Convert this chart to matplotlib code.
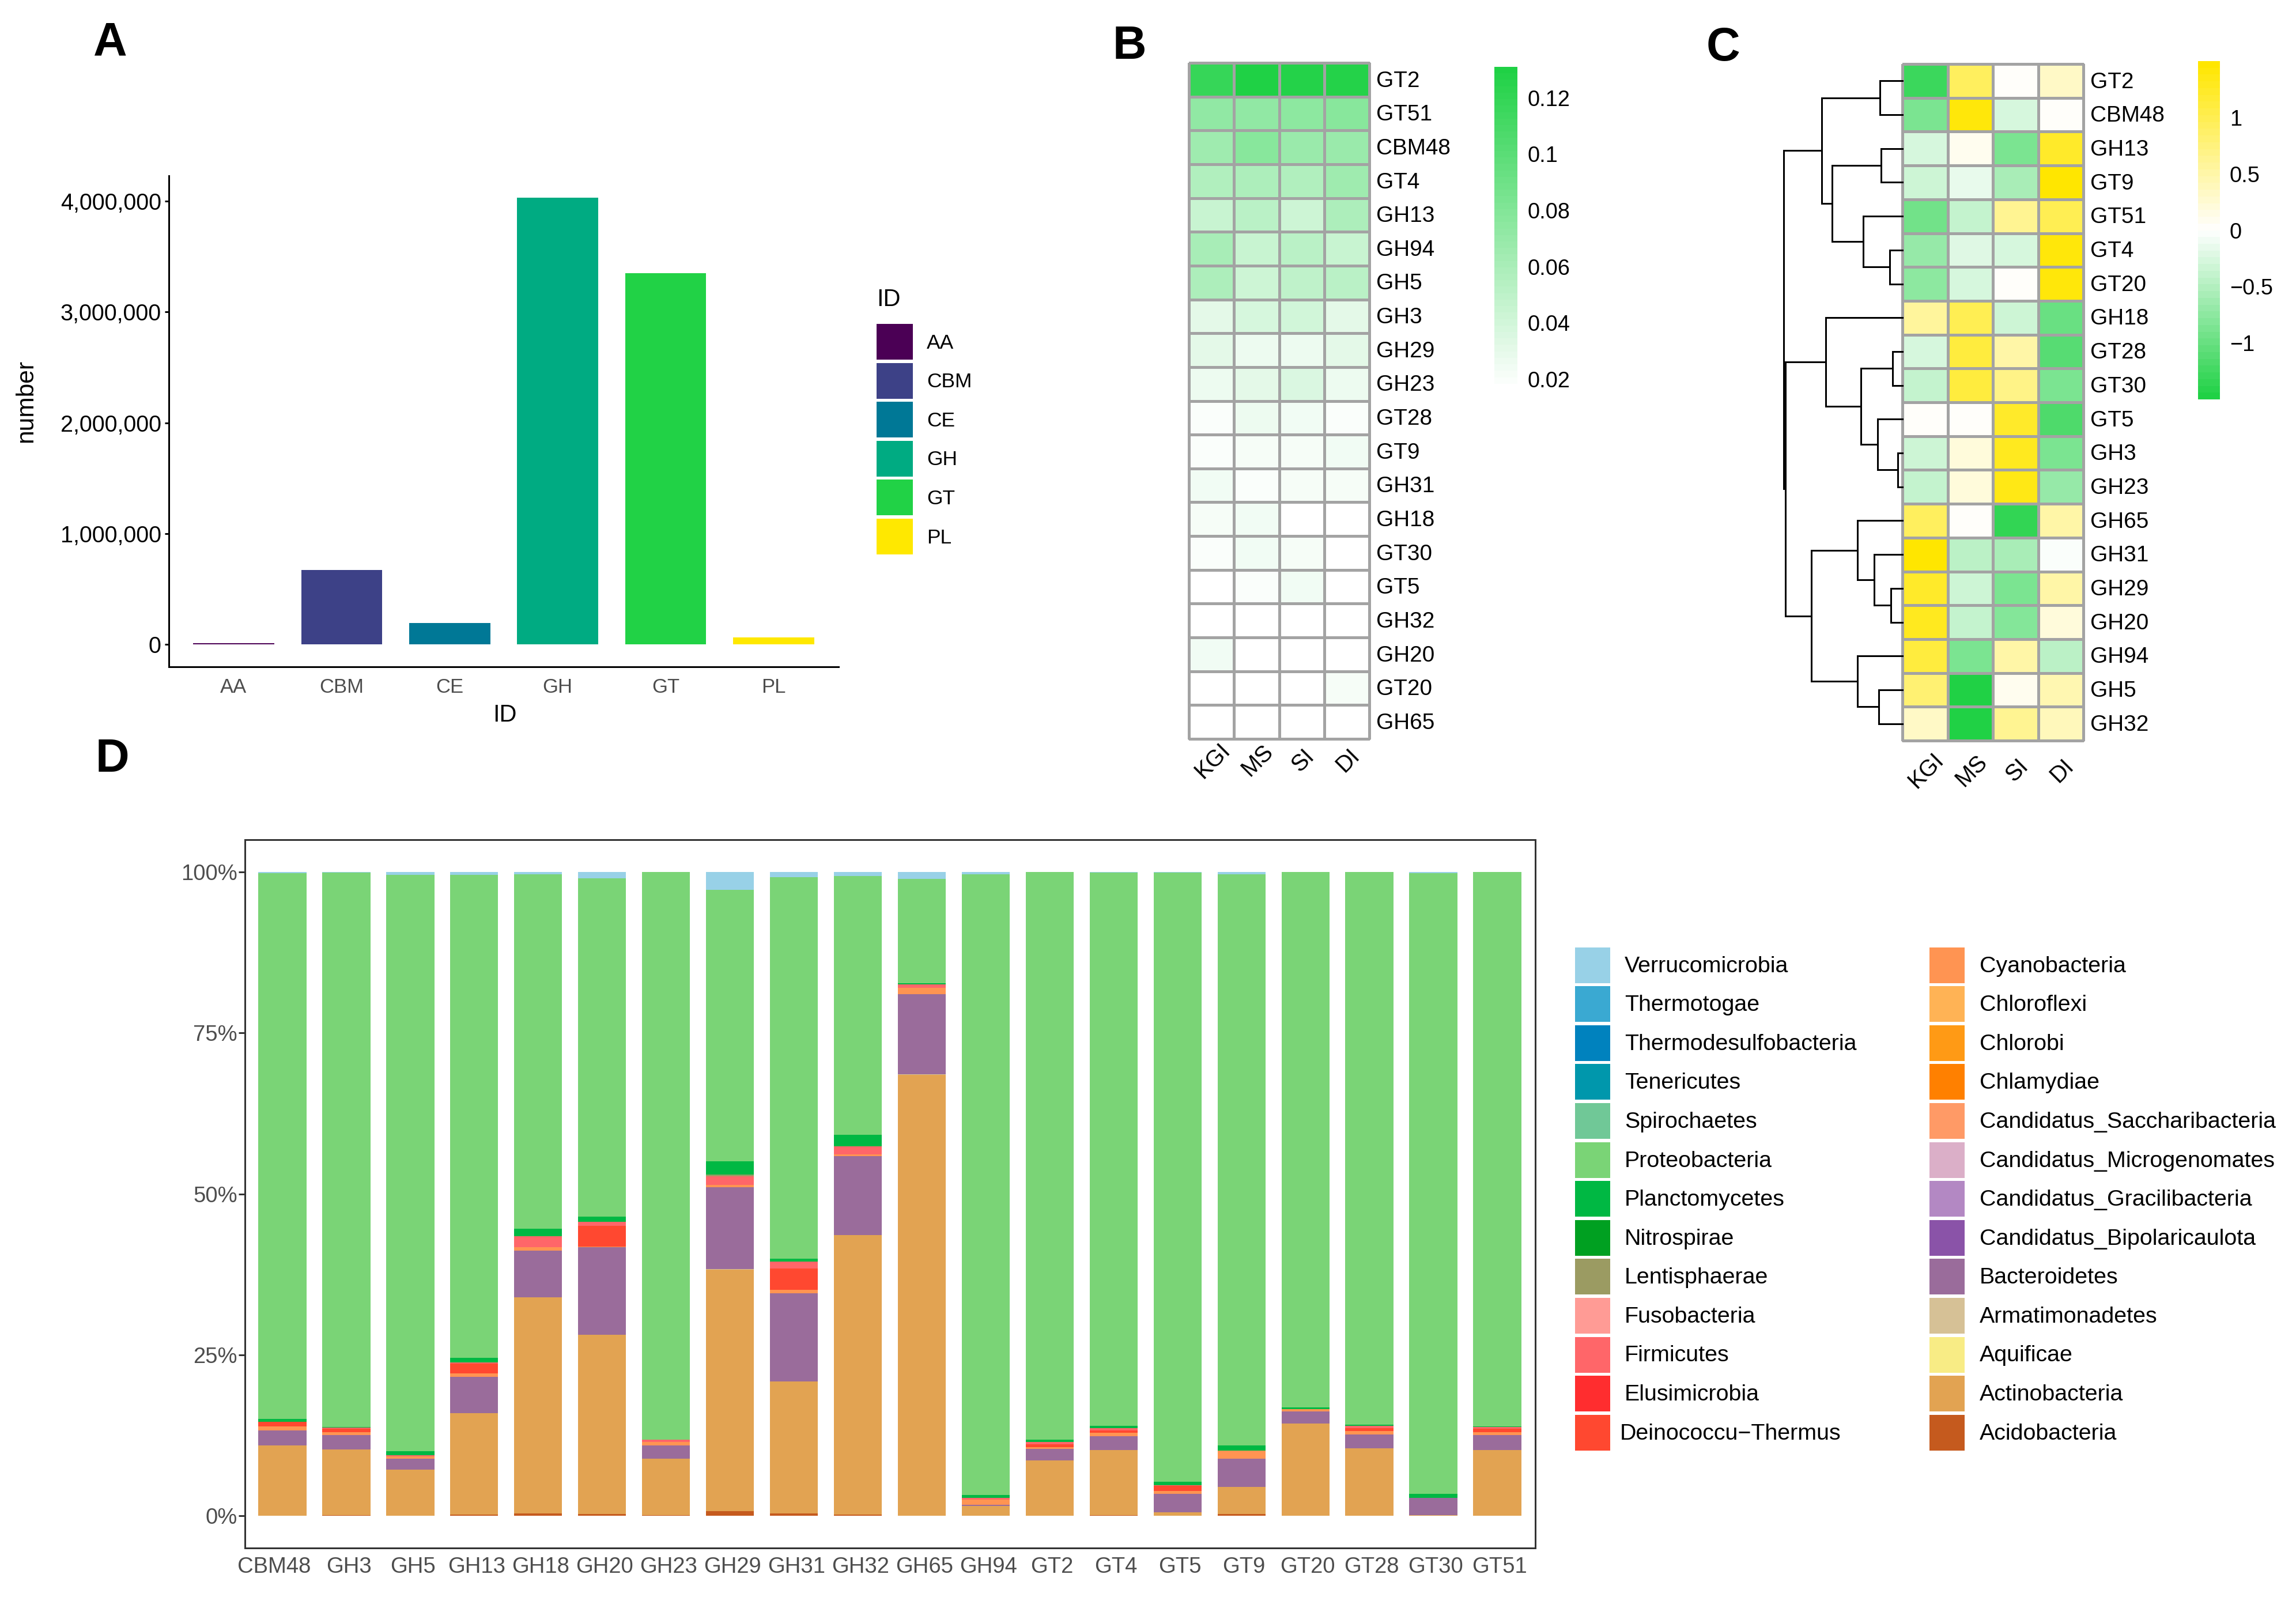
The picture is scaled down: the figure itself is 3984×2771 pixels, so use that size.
import numpy as np
import matplotlib
matplotlib.use('Agg')
import matplotlib.pyplot as plt
from matplotlib.cm import ScalarMappable
from matplotlib.colors import LinearSegmentedColormap, Normalize
from matplotlib.patches import Rectangle
from matplotlib.transforms import ScaledTranslation

plt.rcParams['font.family'] = ['Liberation Sans', 'DejaVu Sans']

W, H = 3984, 2771
DPI = 300
PX = 72 / DPI  # one output pixel in points

# --- panel A data ---
enzyme_ids = ['AA', 'CBM', 'CE', 'GH', 'GT', 'PL']
enzyme_counts = [12000, 671000, 190000, 4030000, 3353000, 62000]
enzyme_colors = ['#4B0055', '#3D4187', '#007896', '#00AB82', '#21D246', '#FFE800']

# --- panel B data ---
b_rows = ['GT2', 'GT51', 'CBM48', 'GT4', 'GH13', 'GH94', 'GH5', 'GH3', 'GH29', 'GH23',
          'GT28', 'GT9', 'GH31', 'GH18', 'GT30', 'GT5', 'GH32', 'GH20', 'GT20', 'GH65']
samples = ['KGI', 'MS', 'SI', 'DI']
b_kgi = [.118, .072, .066, .056, .044, .060, .058, .032, .032, .027,
         .020, .020, .025, .021, .019, .018, .018, .023, .016, .018]
b_ms = [.131, .072, .076, .058, .052, .044, .042, .038, .027, .030,
        .026, .022, .020, .023, .023, .019, .016, .016, .016, .018]
b_si = [.127, .075, .068, .056, .042, .052, .050, .040, .027, .035,
        .024, .022, .021, .018, .022, .023, .018, .016, .018, .016]
b_di = [.127, .078, .068, .066, .058, .045, .052, .030, .031, .027,
        .020, .024, .022, .016, .016, .016, .018, .018, .021, .018]

# --- panel C data ---
c_rows = ['GT2', 'CBM48', 'GH13', 'GT9', 'GT51', 'GT4', 'GT20', 'GH18', 'GT28', 'GT30',
          'GT5', 'GH3', 'GH23', 'GH65', 'GH31', 'GH29', 'GH20', 'GH94', 'GH5', 'GH32']
c_kgi = [-1.3, -.85, -.25, -.35, -.95, -.7, -.75, .55, -.25, -.4,
         .02, -.33, -.4, .9, 1.45, 1.2, 1.3, 1.1, .8, .3]
c_ms = [.95, 1.4, .1, -.15, -.4, -.2, -.3, 1.0, 1.1, 1.1,
        .05, .2, .2, .05, -.45, -.35, -.4, -.85, -1.5, -1.45]
c_si = [.02, -.25, -.9, -.6, .6, -.25, .02, -.33, .5, .7,
        1.2, 1.3, 1.35, -1.35, -.6, -.85, -.8, .5, .07, .6]
c_di = [.35, .02, 1.2, 1.45, 1.0, 1.4, 1.4, -1.0, -1.1, -.85,
        -1.2, -.85, -.7, .5, -.05, .5, .2, -.45, .45, .4]

# dendrogram: leaves are 0-19, new nodes count on from 20 (left, right, height)
c_merges = [
    (0, 1, 59), (2, 3, 56), (5, 6, 34), (4, 22, 103), (21, 23, 186), (20, 24, 213),
    (8, 9, 26), (11, 12, 12), (10, 27, 65), (26, 28, 109), (7, 29, 203),
    (15, 16, 31), (14, 31, 75), (13, 32, 118), (18, 19, 62), (17, 34, 119),
    (33, 35, 240), (30, 36, 309), (25, 37, 313),
]

# --- panel D data ---
gene_families = ['CBM48', 'GH3', 'GH5', 'GH13', 'GH18', 'GH20', 'GH23', 'GH29', 'GH31', 'GH32',
                 'GH65', 'GH94', 'GT2', 'GT4', 'GT5', 'GT9', 'GT20', 'GT28', 'GT30', 'GT51']
acidobacteria = [.05, .1, .05, .2, .35, .3, .1, .7, .35, .2, .05, .05, .05, .1, .05, .25, .05, .05, .05, .05]
actinobacteria = [10.91, 10.2, 7.12, 15.7, 33.55, 27.8, 8.76, 37.5, 20.55, 43.4,
                  68.45, 1.45, 8.55, 10.1, .5, 4.25, 14.25, 10.45, .05, 10.15]
armatimonadetes = [0, 0, 0, 0, 0, 0, 0, .1, 0, 0, .1, 0, 0, 0, 0, 0, 0, 0, 0, 0]
bacteroidetes = [2.34, 2.2, 1.73, 5.7, 7.3, 13.65, 2.1, 12.7, 13.7, 12.3,
                 12.4, .24, 1.8, 2.2, 2.85, 4.4, 1.95, 2.15, 2.7, 2.3]
cyanobacteria = [.6, .5, .3, .5, .5, .05, .54, .4, .5, .2, 1.0, .76, .3, .5, .5, 1.2, .35, .5, 0, .5]
deinococcus = [.67, .5, 0, 1.55, 0, 3.25, 0, 0, 3.3, 0, 0, 0, .4, .4, .75, 0, 0, .5, 0, .5]
firmicutes = [0, .2, .2, .15, 1.7, .6, .3, 1.3, 1.1, 1.3, .5, .3, .35, .3, .15, 0, 0, .35, 0, .3]
lentisphaerae = [0, 0, 0, 0, 0, 0, 0, .3, 0, 0, 0, 0, 0, 0, 0, 0, 0, 0, 0, 0]
planctomycetes = [.5, .1, .6, .7, 1.2, .8, .05, 2.1, .4, 1.8, .25, .4, .35, .4, .5, .8, .25, .15, .6, .1]
proteobacteria = [84.73, 86.07, 89.5, 75.0, 55.0, 52.6, 88.15, 42.1, 59.3, 40.2,
                  16.15, 96.45, 88.15, 85.9, 94.6, 88.7, 83.1, 85.8, 96.4, 86.05]
verrucomicrobia = [.2, .13, .5, .5, .4, 1.0, .05, 2.8, .8, .6, 1.1, .35, .05, .1, .1, .4, .05, .05, .2, .05]

legend_left = ['Verrucomicrobia', 'Thermotogae', 'Thermodesulfobacteria', 'Tenericutes', 'Spirochaetes',
               'Proteobacteria', 'Planctomycetes', 'Nitrospirae', 'Lentisphaerae', 'Fusobacteria',
               'Firmicutes', 'Elusimicrobia', 'Deinococcu\u2212Thermus']
legend_right = ['Cyanobacteria', 'Chloroflexi', 'Chlorobi', 'Chlamydiae', 'Candidatus_Saccharibacteria',
                'Candidatus_Microgenomates', 'Candidatus_Gracilibacteria', 'Candidatus_Bipolaricaulota',
                'Bacteroidetes', 'Armatimonadetes', 'Aquificae', 'Actinobacteria', 'Acidobacteria']
colors_left = ['#98D1E7', '#3AA9D2', '#0082BE', '#0097AC', '#70C897', '#7AD476', '#00B843',
               '#00A021', '#9B9B62', '#FF9B95', '#FF6669', '#FF2D2F', '#FF4830']
colors_right = ['#FF9452', '#FFB355', '#FF9A15', '#FF8000', '#FF9A66', '#DBAFC8', '#B388C3',
                '#8A53A8', '#9A6C9B', '#D6C196', '#F8EC85', '#E2A352', '#C55A1E']


def px_axes(fig, x0, y0, x1, y1):
    # axes placed by output pixels, y measured from the top
    return fig.add_axes([x0 / W, 1 - y1 / H, (x1 - x0) / W, (y1 - y0) / H])


def draw_heatmap(fig, box, matrix, rows, cmap, norm, label_drop=9):
    ax = px_axes(fig, *box)
    mesh = ax.pcolormesh(matrix, cmap=cmap, norm=norm, edgecolors='#A3A3A3', linewidth=3.2 * PX)
    mesh.set_clip_on(False)
    ax.set_xlim(0, 4)
    ax.set_ylim(len(rows), 0)
    ax.yaxis.tick_right()
    ax.set_yticks(np.arange(len(rows)) + 0.47, rows, fontsize=9.3)
    ax.tick_params(axis='y', length=0, pad=12 * PX)
    ax.set_xticks([])
    for spine in ax.spines.values():
        spine.set_visible(False)
    for j, name in enumerate(samples):
        ax.annotate(name, xy=(j + 0.5, len(rows)), xycoords='data', xytext=(0.5, -label_drop),
                    textcoords='offset points', rotation=45, ha='center', va='center', fontsize=9.6)
    return ax


def draw_colorbar(fig, box, cmap, norm, ticks, labels):
    cax = px_axes(fig, *box)
    cb = fig.colorbar(ScalarMappable(norm=norm, cmap=cmap), cax=cax)
    cb.outline.set_visible(False)
    cb.set_ticks(ticks, labels=labels)
    cb.ax.tick_params(length=0, pad=17 * PX, labelsize=9.1)


def draw_dendrogram(ax, merges, n_leaves):
    ypos = {i: i + 0.5 for i in range(n_leaves)}
    height = {i: 0 for i in range(n_leaves)}
    for k, (a, b, h) in enumerate(merges):
        node = n_leaves + k
        ax.plot([height[a], h, h, height[b]], [ypos[a], ypos[a], ypos[b], ypos[b]],
                color='black', lw=3 * PX, solid_joinstyle='miter', clip_on=False)
        ypos[node] = (ypos[a] + ypos[b]) / 2
        height[node] = h


fig = plt.figure(figsize=(W / DPI, H / DPI), dpi=DPI, facecolor='white')

# overlay in output pixels for panel letters and hand placed legends
overlay = fig.add_axes([0, 0, 1, 1], zorder=5)
overlay.set_xlim(0, W)
overlay.set_ylim(H, 0)
overlay.axis('off')
for letter, x, y in [('A', 162, 95), ('B', 1931, 102), ('C', 2961, 105), ('D', 166, 1339)]:
    overlay.text(x, y, letter, fontsize=19.5, fontweight='bold', ha='left', va='baseline')

# A: bar chart of enzyme classes
ax_a = px_axes(fig, 293, 305, 1455, 1157)
ax_a.bar(range(1, 7), enzyme_counts, width=0.75, color=enzyme_colors)
ax_a.set_xlim(0.4, 6.6)
ax_a.set_ylim(-203000, 4230000)
ax_a.set_xticks(range(1, 7), enzyme_ids, fontsize=8.3, color='#4D4D4D')
ax_a.set_yticks([0, 1000000, 2000000, 3000000, 4000000],
                ['0', '1,000,000', '2,000,000', '3,000,000', '4,000,000'], fontsize=9.5)
ax_a.tick_params(axis='x', length=0, pad=4.5)
ax_a.tick_params(axis='y', length=7 * PX, width=3 * PX, pad=1.5)
ax_a.spines[['top', 'right']].set_visible(False)
ax_a.spines[['left', 'bottom']].set_linewidth(3 * PX)
overlay.text(876, 1241, 'ID', fontsize=10, ha='center', va='center')
overlay.text(45, 696, 'number', fontsize=10.2, rotation=90, ha='center', va='center')

overlay.text(1521, 520, 'ID', fontsize=10, ha='left', va='center')
for i, (name, col) in enumerate(zip(enzyme_ids, enzyme_colors)):
    y = 562 + i * 67.6
    overlay.add_patch(Rectangle((1521, y), 63, 62, facecolor=col, edgecolor='none'))
    overlay.text(1608, y + 33, name, fontsize=8.5, ha='left', va='center')

# B: relative abundance heatmap
green_cmap = LinearSegmentedColormap.from_list('b_green', ['#FFFFFF', '#1FD145'], N=50)
b_norm = Normalize(0.0161, 0.131)
b_matrix = np.array([b_kgi, b_ms, b_si, b_di]).T
draw_heatmap(fig, (2063, 109, 2376, 1282), b_matrix, b_rows, green_cmap, b_norm)
draw_colorbar(fig, (2593, 116, 2633, 677), green_cmap, b_norm,
              [.02, .04, .06, .08, .1, .12], ['0.02', '0.04', '0.06', '0.08', '0.1', '0.12'])

# C: scaled heatmap with row dendrogram
gy_cmap = LinearSegmentedColormap.from_list('c_gy', ['#20D145', '#FFFFFF', '#FFE600'], N=50)
c_norm = Normalize(-1.5, 1.5)
c_matrix = np.array([c_kgi, c_ms, c_si, c_di]).T
draw_heatmap(fig, (3301, 111, 3615, 1285), c_matrix, c_rows, gy_cmap, c_norm, label_drop=12.5)
draw_colorbar(fig, (3814, 106, 3852, 693), gy_cmap, c_norm,
              [-1, -.5, 0, .5, 1], ['\u22121', '\u22120.5', '0', '0.5', '1'])

ax_dend = px_axes(fig, 3090, 111, 3301, 1285)
ax_dend.set_xlim(321, 0)
ax_dend.set_ylim(20, 0)
ax_dend.axis('off')
draw_dendrogram(ax_dend, c_merges, 20)

# D: stacked composition per gene family
ax_d = px_axes(fig, 425, 1457, 2664, 2686)
stack = [(acidobacteria, '#C55A1E'), (actinobacteria, '#E2A352'), (armatimonadetes, '#D6C196'),
         (bacteroidetes, '#9A6C9B'), (cyanobacteria, '#FF9452'), (deinococcus, '#FF4830'),
         (firmicutes, '#FF6669'), (lentisphaerae, '#9B9B62'), (planctomycetes, '#00B843'),
         (proteobacteria, '#7AD476'), (verrucomicrobia, '#98D1E7')]
stack_values = np.array([s[0] for s in stack], dtype=float)
stack_values = stack_values / stack_values.sum(axis=0)  # same as position = fill
bottom = np.zeros(len(gene_families))
xs = np.arange(1, len(gene_families) + 1)
for vals, (_, col) in zip(stack_values, stack):
    ax_d.bar(xs, vals, width=0.75, bottom=bottom, color=col)
    bottom += vals
ax_d.set_xlim(0.414, 20.595)
ax_d.set_ylim(-0.05, 1.05)
ax_d.set_xticks(xs, gene_families, fontsize=9.2, color='#4D4D4D')
ax_d.set_yticks([0, .25, .5, .75, 1], ['0%', '25%', '50%', '75%', '100%'], fontsize=9.2, color='#4D4D4D')
ax_d.tick_params(axis='x', length=0, pad=3.5)
ax_d.tick_params(axis='y', length=11 * PX, width=3 * PX, color='#333333', pad=0.5)
for spine in ax_d.spines.values():
    spine.set_linewidth(3 * PX)
    spine.set_color('#333333')
# the labels sit slightly off the bar centres in the original
for label in ax_d.get_xticklabels():
    shift = -3.5 if label.get_text() == 'CBM48' else 1.0
    label.set_transform(label.get_transform() + ScaledTranslation(shift / 72, 0, fig.dpi_scale_trans))

for names, cols, sw_x, txt_x in [(legend_left, colors_left, 2733, 2819),
                                 (legend_right, colors_right, 3348, 3435)]:
    for i, (name, col) in enumerate(zip(names, cols)):
        y = 1643.5 + i * 67.6
        overlay.add_patch(Rectangle((sw_x, y), 61, 62, facecolor=col, edgecolor='none'))
        x = 2811 if name.startswith('Deino') else txt_x
        overlay.text(x, y + 33, name, fontsize=9.45, ha='left', va='center')

fig.savefig('out.png', dpi=DPI)
